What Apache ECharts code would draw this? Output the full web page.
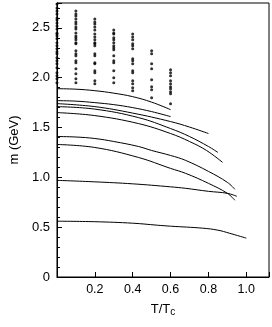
<!DOCTYPE html>
<html><head><meta charset="utf-8">
<script src="https://cdn.jsdelivr.net/npm/echarts@6/dist/echarts.min.js"></script>
<style>html,body{margin:0;padding:0;background:#fff}#c{width:272px;height:327px}</style>
</head><body><div id="c"></div>
<script>
// Curves: [T/Tc, m (GeV)]
var curve1 = [[0,1.89],[0.1,1.885],[0.2,1.87],[0.3,1.845],[0.4,1.81],[0.5,1.755],[0.6,1.68]];
var curve2 = [[0,1.77],[0.1,1.765],[0.2,1.75],[0.3,1.73],[0.4,1.70],[0.5,1.66],[0.6,1.61]];
var curve3 = [[0,1.74],[0.2,1.71],[0.4,1.645],[0.6,1.56],[0.7,1.505],[0.8,1.44]];
var curve4 = [[0,1.71],[0.2,1.685],[0.43,1.60],[0.6,1.49],[0.7,1.41],[0.8,1.31],[0.85,1.25]];
var curve5 = [[0,1.65],[0.2,1.62],[0.43,1.54],[0.6,1.44],[0.7,1.36],[0.79,1.27],[0.875,1.15]];
var curve6 = [[0,1.41],[0.1,1.405],[0.2,1.39],[0.3,1.36],[0.43,1.31],[0.5,1.27],[0.6,1.22],[0.68,1.17],[0.8,1.06],[0.9,0.95],[0.94,0.88]];
var curve7 = [[0,1.33],[0.2,1.30],[0.43,1.20],[0.6,1.09],[0.68,1.04],[0.8,0.94],[0.9,0.84],[0.94,0.77]];
var curve8 = [[0,0.97],[0.2,0.955],[0.4,0.935],[0.6,0.905],[0.68,0.89],[0.8,0.86],[0.9,0.84],[0.95,0.81]];
var curve9 = [[0,0.56],[0.2,0.555],[0.4,0.54],[0.53,0.52],[0.6,0.51],[0.77,0.49],[0.85,0.47],[0.91,0.44],[1.0,0.39]];

// Dot columns: T/Tc position and masses
var dotsT = [0, 0.1, 0.2, 0.3, 0.4, 0.5, 0.6];
var dots0 = [2.74,2.70,2.67,2.64,2.60,2.58,2.55,2.52,2.49,2.45,2.44,2.42,2.39,2.35,2.32,2.29,2.26,2.24,2.20,2.17,2.14,2.10,2.05,2.02,1.99,1.95];
var dots1 = [2.67,2.64,2.62,2.59,2.56,2.54,2.51,2.49,2.45,2.42,2.40,2.38,2.35,2.34,2.27,2.24,2.22,2.17,2.15,2.09,2.04,1.99,1.95];
var dots2 = [2.59,2.56,2.54,2.51,2.48,2.44,2.41,2.38,2.35,2.34,2.32,2.24,2.22,2.15,2.14,2.07,2.05,1.97,1.94];
var dots3 = [2.48,2.45,2.44,2.40,2.38,2.35,2.32,2.30,2.28,2.22,2.17,2.15,2.07,2.00,1.95];
var dots4 = [2.44,2.41,2.38,2.34,2.32,2.29,2.19,2.17,2.14,2.07,2.05,1.97,1.94,1.90,1.87];
var dots5 = [2.27,2.24,2.14,2.09,1.98,1.91,1.88,1.80];
var dots6 = [2.08,2.05,2.02,1.97,1.94,1.91,1.89,1.86,1.84,1.74];

var xTicks = [0.2, 0.4, 0.6, 0.8, 1.0];
var yTicks = [0, 0.5, 1.0, 1.5, 2.0, 2.5];

var curves = [curve1,curve2,curve3,curve4,curve5,curve6,curve7,curve8,curve9];
var dotCols = [dots0,dots1,dots2,dots3,dots4,dots5,dots6];

var series = [];
curves.forEach(function(c){
  series.push({type:'line', data:c, smooth:0.4, showSymbol:false, symbol:'none',
    lineStyle:{color:'#000', width:1}, silent:true});
});
var dotData = [];
dotCols.forEach(function(col, i){
  col.forEach(function(m){ dotData.push([dotsT[i], m]); });
});
series.push({type:'scatter', data:dotData, symbol:'circle', symbolSize:3, clip:false, z:5,
  itemStyle:{color:'#000'}, silent:true});

var font = 'Liberation Sans, Arial, sans-serif';
var chart = echarts.init(document.getElementById('c'), null, {renderer:'canvas'});
chart.setOption({
  animation:false,
  backgroundColor:'#fff',
  grid:{left:43, right:3, top:3, bottom:50, show:true, borderColor:'#000', borderWidth:1},
  xAxis:{type:'value', min:0, max:1.12, interval:0.2,
    name:'T/T{s|c}', nameLocation:'middle', nameGap:24,
    nameTextStyle:{color:'#000', fontSize:13, fontFamily:font, rich:{s:{fontSize:10, verticalAlign:'bottom', padding:[6,0,0,0], fontFamily:font, color:'#000'}}},
    axisLine:{show:true, lineStyle:{color:'#000', width:1}},
    axisTick:{show:true, inside:true, length:5, lineStyle:{color:'#000'}},
    splitLine:{show:false},
    axisLabel:{color:'#000', fontSize:12.5, fontFamily:font, margin:6,
      formatter:function(v){ var r=Math.round(v*10)/10; return xTicks.indexOf(r)>=0 && Math.abs(v-r)<1e-6 ? r.toFixed(1) : ''; }}
  },
  yAxis:[{type:'value', min:0, max:2.75, interval:0.5,
    name:'m (GeV)', nameLocation:'middle', nameGap:29,
    nameTextStyle:{color:'#000', fontSize:13, fontFamily:font},
    axisLine:{show:true, lineStyle:{color:'#000', width:1}},
    axisTick:{show:true, inside:true, length:5, lineStyle:{color:'#000'}},
    splitLine:{show:false},
    axisLabel:{color:'#000', fontSize:13, fontFamily:font, margin:7,
      formatter:function(v){ var i=yTicks.indexOf(Math.round(v*10)/10); if(i<0||Math.abs(v-yTicks[i])>1e-6) return ''; return v===0?'0':v.toFixed(1); }}
  },{type:'value', min:0, max:2.75, interval:0.1, position:'left', offset:0,
    axisLine:{show:false}, axisLabel:{show:false}, splitLine:{show:false},
    axisTick:{show:true, inside:true, length:3, lineStyle:{color:'#000'}}
  }],
  series:series
});
</script></body></html>
